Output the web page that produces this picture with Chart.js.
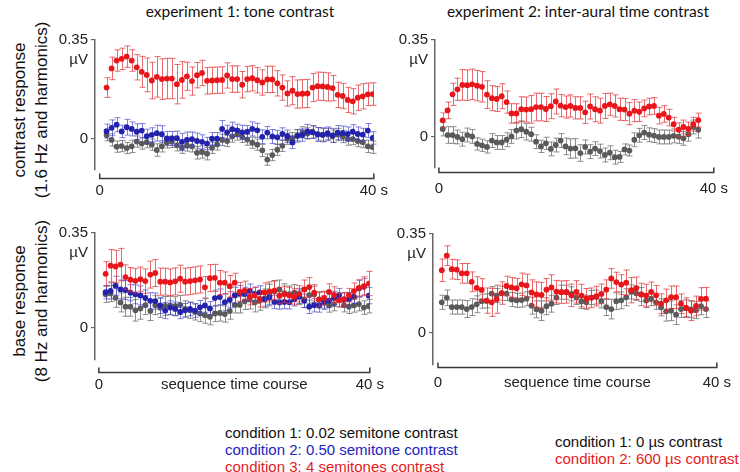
<!DOCTYPE html>
<html>
<head>
<meta charset="utf-8">
<script src="https://cdn.jsdelivr.net/npm/chart.js@4.4.1/dist/chart.umd.min.js"></script>
<style>
  body { margin: 0; width: 740px; height: 472px; position: relative; overflow: hidden; background: #fff;
         font-family: "Liberation Sans", Arial, sans-serif; color: #111; }
  .box { position: absolute; }
  .title { position: absolute; top: 2px; font-family: Lato, "Open Sans", sans-serif; font-size: 15.5px;
           font-weight: 400; transform: translateX(-50%); white-space: nowrap; }
  .ylab { position: absolute; font-size: 17px; line-height: 22px; text-align: center; white-space: nowrap;
          transform: translate(-50%, -50%) rotate(-90deg); }
  .legend { position: absolute; font-size: 15px; line-height: 17px; white-space: nowrap; }
</style>
</head>
<body>

<div class="title" style="left:240px">experiment 1: tone contrast</div>
<div class="title" style="left:578px">experiment 2: inter-aural time contrast</div>

<div class="ylab" style="left:31px; top:110px">contrast response<br>(1.6 Hz and harmonics)</div>
<div class="ylab" style="left:31px; top:301px">base response<br>(8 Hz and harmonics)</div>

<div class="box" id="boxTL"><canvas id="tl"></canvas></div>
<div class="box" id="boxTR"><canvas id="tr"></canvas></div>
<div class="box" id="boxBL"><canvas id="bl"></canvas></div>
<div class="box" id="boxBR"><canvas id="br"></canvas></div>

<div class="legend" style="left:225px; top:424px">
  <div style="color:#111">condition 1: 0.02 semitone contrast</div>
  <div style="color:#2323c0">condition 2: 0.50 semitone contrast</div>
  <div style="color:#e31a1c">condition 3: 4 semitones contrast</div>
</div>
<div class="legend" style="left:555px; top:433px">
  <div style="color:#111">condition 1: 0 µs contrast</div>
  <div style="color:#e31a1c">condition 2: 600 µs contrast</div>
</div>

<script>
// ---- sampling (bin centres, seconds) ----
const EXP1_T0 = 1.0, EXP1_DT = 0.733;
const EXP2_T0 = 0.55, EXP2_DT = 0.715;

// ---- axis ticks ----
const yTicks = [0, 0.35];
const xTicks = [0, 40];

// ---- experiment 1, contrast response (µV) ----
const tlCond1 = [0.012,-0.005,-0.029,-0.027,-0.034,-0.028,-0.011,-0.018,-0.013,-0.022,-0.041,-0.028,-0.014,-0.012,-0.024,-0.033,-0.025,-0.028,-0.051,-0.048,-0.054,-0.033,-0.021,-0.005,-0.009,0.007,0.014,0.006,-0.004,-0.015,-0.022,-0.042,-0.075,-0.059,-0.040,-0.026,-0.001,0.001,0.012,0.022,0.018,0.024,0.016,0.013,0.014,0.008,0.014,0.007,-0.002,-0.002,-0.009,-0.013,-0.028,-0.031];
const tlCond1Err = [0.02,0.022,0.02,0.02,0.02,0.022,0.02,0.02,0.02,0.02,0.022,0.02,0.02,0.02,0.02,0.02,0.02,0.02,0.022,0.022,0.022,0.02,0.02,0.02,0.02,0.02,0.02,0.02,0.02,0.02,0.02,0.022,0.02,0.02,0.02,0.02,0.02,0.02,0.02,0.02,0.02,0.022,0.022,0.022,0.022,0.022,0.022,0.022,0.022,0.02,0.02,0.02,0.022,0.022];
const tlCond2 = [0.026,0.038,0.049,0.025,0.040,0.034,0.024,0.028,0.008,0.013,0.019,0.015,0,0,0.001,-0.012,-0.005,-0.002,-0.009,-0.012,-0.018,-0.001,-0.001,0.034,0.022,0.033,0.029,0.022,0.024,0.034,0.029,0.006,0.021,0.007,0.004,0.016,0.008,-0.014,0.009,0.012,0.025,0.022,0.014,0.013,0.019,0.011,0.021,0.019,0.016,0.024,0.016,0.014,0.028,0.002];
const tlCond2Err = [0.025,0.028,0.025,0.022,0.028,0.025,0.028,0.025,0.025,0.025,0.028,0.03,0.025,0.025,0.025,0.03,0.028,0.025,0.028,0.025,0.022,0.022,0.022,0.03,0.025,0.025,0.022,0.025,0.022,0.025,0.025,0.025,0.022,0.025,0.025,0.022,0.022,0.022,0.022,0.022,0.025,0.022,0.025,0.025,0.022,0.025,0.025,0.025,0.025,0.025,0.025,0.022,0.025,0.022];
const tlCond3 = [0.181,0.249,0.277,0.283,0.291,0.277,0.253,0.237,0.226,0.206,0.219,0.211,0.213,0.213,0.193,0.208,0.221,0.204,0.225,0.233,0.205,0.206,0.207,0.208,0.224,0.211,0.211,0.191,0.211,0.214,0.207,0.199,0.210,0.210,0.196,0.181,0.160,0.170,0.158,0.159,0.160,0.181,0.186,0.185,0.183,0.179,0.155,0.151,0.137,0.132,0.145,0.150,0.157,0.158];
const tlCond3Err = [0.035,0.04,0.038,0.038,0.038,0.038,0.045,0.055,0.06,0.065,0.072,0.072,0.072,0.072,0.07,0.065,0.05,0.05,0.045,0.045,0.047,0.047,0.047,0.047,0.045,0.047,0.047,0.047,0.045,0.045,0.045,0.045,0.047,0.047,0.045,0.045,0.045,0.05,0.05,0.05,0.05,0.05,0.05,0.05,0.05,0.045,0.045,0.045,0.045,0.045,0.045,0.045,0.04,0.04];

// ---- experiment 2, contrast response (µV) ----
const trCond1 = [0.029,0.007,0.007,0,-0.008,0.007,0.002,-0.025,-0.030,-0.036,-0.013,-0.020,-0.020,-0.010,0.002,0.023,0.028,0.019,0.010,-0.017,-0.034,-0.023,-0.043,-0.029,-0.013,-0.034,-0.042,-0.041,-0.058,-0.036,-0.053,-0.042,-0.051,-0.065,-0.057,-0.073,-0.072,-0.045,-0.049,-0.010,0.006,0.016,0.008,0.005,0,0,0,0.004,0.001,-0.005,0.010,0.036,0.026];
const trCond1Err = [0.025,0.03,0.03,0.025,0.025,0.025,0.025,0.022,0.022,0.022,0.025,0.025,0.025,0.025,0.025,0.03,0.03,0.03,0.025,0.025,0.022,0.022,0.025,0.025,0.025,0.03,0.035,0.035,0.03,0.025,0.025,0.025,0.025,0.025,0.025,0.025,0.02,0.02,0.02,0.025,0.025,0.025,0.025,0.025,0.025,0.025,0.025,0.025,0.025,0.025,0.025,0.025,0.03];
const trCond2 = [0.060,0.096,0.154,0.172,0.188,0.187,0.190,0.185,0.181,0.153,0.140,0.137,0.147,0.126,0.085,0.085,0.100,0.099,0.100,0.108,0.108,0.101,0.111,0.128,0.113,0.108,0.112,0.105,0.105,0.089,0.110,0.100,0.095,0.112,0.118,0.112,0.100,0.099,0.084,0.095,0.091,0.103,0.110,0.112,0.077,0.083,0.070,0.046,0.026,0.036,0.029,0.046,0.061];
const trCond2Err = [0.027,0.03,0.04,0.04,0.055,0.055,0.055,0.055,0.055,0.05,0.045,0.045,0.045,0.04,0.035,0.035,0.045,0.045,0.05,0.05,0.05,0.045,0.045,0.045,0.04,0.04,0.04,0.04,0.04,0.04,0.045,0.045,0.045,0.045,0.04,0.04,0.04,0.04,0.04,0.04,0.035,0.03,0.03,0.03,0.03,0.03,0.03,0.025,0.025,0.025,0.025,0.025,0.025];

// ---- experiment 1, base response (µV) ----
const blCond1 = [0.123,0.126,0.110,0.093,0.077,0.077,0.064,0.071,0.083,0.061,0.083,0.073,0.080,0.082,0.079,0.084,0.069,0.064,0.058,0.052,0.046,0.040,0.052,0.054,0.050,0.061,0.084,0.084,0.097,0.104,0.093,0.099,0.108,0.120,0.134,0.141,0.127,0.124,0.129,0.115,0.104,0.120,0.123,0.103,0.102,0.082,0.087,0.102,0.083,0.077,0.082,0.087,0.074,0.079];
const blCond1Err = [0.03,0.03,0.035,0.035,0.035,0.035,0.04,0.04,0.035,0.035,0.035,0.035,0.035,0.035,0.035,0.035,0.03,0.03,0.03,0.03,0.03,0.03,0.03,0.03,0.03,0.03,0.03,0.03,0.03,0.035,0.035,0.035,0.035,0.04,0.04,0.035,0.035,0.03,0.03,0.03,0.03,0.03,0.03,0.03,0.03,0.025,0.025,0.025,0.025,0.025,0.025,0.025,0.025,0.025];
const blCond2 = [0.131,0.136,0.155,0.141,0.139,0.129,0.123,0.119,0.109,0.099,0.098,0.082,0.063,0.074,0.069,0.058,0.064,0.069,0.063,0.075,0.082,0.071,0.109,0.113,0.094,0.103,0.119,0.126,0.124,0.136,0.125,0.130,0.104,0.111,0.095,0.093,0.095,0.094,0.105,0.114,0.099,0.077,0.083,0.082,0.092,0.100,0.109,0.120,0.103,0.105,0.114,0.145,0.151,0.118];
const blCond2Err = [0.025,0.03,0.035,0.035,0.035,0.03,0.035,0.035,0.03,0.03,0.03,0.03,0.03,0.025,0.025,0.025,0.025,0.025,0.025,0.025,0.025,0.025,0.03,0.03,0.03,0.03,0.03,0.03,0.025,0.025,0.025,0.025,0.025,0.025,0.025,0.025,0.025,0.025,0.025,0.025,0.025,0.025,0.025,0.025,0.025,0.025,0.025,0.025,0.025,0.025,0.025,0.03,0.03,0.03];
const blCond3 = [0.199,0.229,0.226,0.233,0.187,0.177,0.173,0.179,0.172,0.196,0.202,0.170,0.170,0.167,0.171,0.181,0.170,0.172,0.175,0.178,0.149,0.183,0.184,0.166,0.166,0.153,0.166,0.132,0.137,0.114,0.119,0.106,0.130,0.134,0.137,0.118,0.123,0.119,0.114,0.125,0.141,0.150,0.129,0.104,0.110,0.132,0.121,0.101,0.105,0.120,0.135,0.147,0.153,0.163];
const blCond3Err = [0.045,0.06,0.06,0.06,0.045,0.045,0.045,0.045,0.045,0.05,0.05,0.05,0.05,0.05,0.05,0.05,0.05,0.05,0.05,0.05,0.04,0.05,0.05,0.045,0.04,0.04,0.035,0.035,0.035,0.03,0.03,0.03,0.035,0.035,0.035,0.03,0.03,0.03,0.03,0.03,0.035,0.035,0.03,0.025,0.025,0.03,0.03,0.025,0.025,0.025,0.03,0.03,0.035,0.045];

// ---- experiment 2, base response (µV) ----
const brCond1 = [0.107,0.123,0.090,0.090,0.090,0.083,0.090,0.100,0.111,0.112,0.138,0.131,0.139,0.138,0.117,0.114,0.115,0.120,0.095,0.082,0.077,0.093,0.102,0.124,0.143,0.143,0.137,0.124,0.110,0.107,0.124,0.126,0.112,0.090,0.083,0.111,0.114,0.125,0.144,0.139,0.135,0.113,0.120,0.107,0.089,0.075,0.077,0.063,0.083,0.086,0.082,0.079,0.093,0.083];
const brCond1Err = [0.025,0.028,0.025,0.025,0.025,0.03,0.03,0.03,0.025,0.025,0.025,0.025,0.025,0.025,0.025,0.025,0.025,0.025,0.03,0.03,0.035,0.03,0.03,0.025,0.025,0.025,0.025,0.025,0.025,0.025,0.025,0.025,0.025,0.03,0.035,0.03,0.03,0.03,0.025,0.025,0.025,0.025,0.025,0.025,0.03,0.035,0.035,0.035,0.03,0.03,0.03,0.03,0.03,0.03];
const brCond2 = [0.221,0.273,0.225,0.223,0.210,0.210,0.180,0.158,0.151,0.113,0.107,0.118,0.140,0.165,0.160,0.157,0.171,0.167,0.142,0.135,0.133,0.152,0.160,0.145,0.143,0.144,0.132,0.144,0.131,0.121,0.123,0.129,0.137,0.152,0.192,0.179,0.170,0.177,0.150,0.157,0.135,0.131,0.144,0.132,0.102,0.114,0.125,0.125,0.102,0.088,0.077,0.094,0.119,0.120];
const brCond2Err = [0.04,0.035,0.035,0.035,0.035,0.035,0.035,0.04,0.04,0.045,0.05,0.05,0.04,0.035,0.035,0.035,0.04,0.04,0.045,0.045,0.045,0.04,0.045,0.04,0.04,0.04,0.04,0.04,0.04,0.035,0.035,0.035,0.035,0.035,0.035,0.035,0.035,0.045,0.045,0.04,0.04,0.04,0.035,0.035,0.035,0.04,0.04,0.04,0.035,0.035,0.035,0.035,0.04,0.04];

// ---- colours ----
const RED = { dot: "#e8161b", bar: "rgba(226,48,52,0.72)" };
const BLUE = { dot: "#2222ad", bar: "rgba(62,62,205,0.65)" };
const GRAY = { dot: "#5a5a5a", bar: "rgba(105,105,105,0.75)" };

const binTimes = (n, t0, dt) => Array.from({ length: n }, (_, i) => t0 + i * dt);

const series = (values, errors, t0, dt, col) => {
  const t = binTimes(values.length, t0, dt);
  return {
    data: values.map((v, i) => ({ x: t[i], y: v })),
    errors,
    barColor: col.bar,
    backgroundColor: col.dot,
    borderWidth: 0,
    pointRadius: 2.9,
    pointHoverRadius: 2.9,
  };
};

// ---- error bars, drawn just under each dataset's dots ----
const errorBars = {
  id: "errorBars",
  beforeDatasetDraw(chart, args) {
    const ds = chart.data.datasets[args.index];
    if (!ds.errors) return;
    const { ctx, scales: { x, y } } = chart;
    ctx.save();
    ctx.strokeStyle = ds.barColor;
    ctx.lineWidth = 1;
    ds.data.forEach((p, i) => {
      const e = ds.errors[i];
      const px = Math.round(x.getPixelForValue(p.x)) + 0.5;
      const top = y.getPixelForValue(p.y + e);
      const bot = y.getPixelForValue(p.y - e);
      ctx.beginPath();
      ctx.moveTo(px, top); ctx.lineTo(px, bot);
      ctx.moveTo(px - 3, top); ctx.lineTo(px + 3, top);
      ctx.moveTo(px - 3, bot); ctx.lineTo(px + 3, bot);
      ctx.stroke();
    });
    ctx.restore();
  },
};

// ---- detached time axis, unit label and axis title ----
const axisDecor = {
  id: "axisDecor",
  afterDraw(chart, args, opts) {
    const { ctx, chartArea, scales: { x, y } } = chart;
    const x0 = x.getPixelForValue(xTicks[0]);
    const x1 = x.getPixelForValue(xTicks[1]);
    const ly = Math.round(chartArea.bottom + opts.gap) + 0.5;
    ctx.save();
    ctx.strokeStyle = "#3a3a3a";
    ctx.lineWidth = 1.5;
    ctx.beginPath();
    ctx.moveTo(x0, ly - 5); ctx.lineTo(x0, ly); ctx.lineTo(x1, ly); ctx.lineTo(x1, ly - 5);
    ctx.stroke();

    ctx.fillStyle = "#222";
    ctx.font = '15px "Liberation Sans", Arial, sans-serif';
    ctx.textAlign = "right";
    ctx.textBaseline = "middle";
    ctx.fillText("µV", chartArea.left - 7, y.getPixelForValue(0.35) + 20);

    if (opts.title) {
      ctx.textAlign = "center";
      ctx.fillText(opts.title, x.getPixelForValue(20), chartArea.bottom + opts.label);
    }
    ctx.restore();
  },
};

// ---- one panel ----
const Y_W = 45, X_H = 30;
function makePanel(id, box, area, cfg) {
  const holder = document.getElementById(id).parentElement;
  Object.assign(holder.style, { left: box[0] + "px", top: box[1] + "px", width: box[2] + "px", height: box[3] + "px" });

  new Chart(document.getElementById(id), {
    type: "scatter",
    data: { datasets: cfg.datasets },
    options: {
      responsive: true,
      maintainAspectRatio: false,
      animation: false,
      events: [],
      layout: {
        padding: {
          left: area.l - box[0] - Y_W,
          top: area.t - box[1],
          right: box[0] + box[2] - area.r,
          bottom: box[1] + box[3] - area.b - X_H,
        },
      },
      plugins: {
        legend: { display: false },
        tooltip: { enabled: false },
        axisDecor: { gap: cfg.gap, label: cfg.label, title: cfg.title },
      },
      scales: {
        x: {
          type: "linear",
          min: cfg.xMin,
          max: xTicks[1],
          afterBuildTicks: s => { s.ticks = xTicks.map(v => ({ value: v })); },
          afterFit: s => { s.height = X_H; },
          grid: { display: false, drawTicks: false },
          border: { display: false },
          ticks: {
            autoSkip: false, maxRotation: 0, padding: cfg.label - 9, color: "#222",
            font: { family: '"Liberation Sans", Arial, sans-serif', size: 15 },
            callback: v => (v === 40 ? "40 s" : "0"),
          },
        },
        y: {
          min: cfg.yMin,
          max: 0.35,
          afterBuildTicks: s => { s.ticks = yTicks.map(v => ({ value: v })); },
          afterFit: s => { s.width = Y_W; },
          grid: { drawOnChartArea: false, drawTicks: true, tickLength: 4, color: "#666", lineWidth: 1.2 },
          border: { display: true, color: "#666", width: 1.5 },
          ticks: {
            padding: 3, color: "#222",
            font: { family: '"Liberation Sans", Arial, sans-serif', size: 15 },
            callback: v => (v === 0 ? "0" : "0.35"),
          },
        },
      },
    },
    plugins: [errorBars, axisDecor],
  });
}

window.addEventListener("DOMContentLoaded", () => {
  makePanel("tl", [40, 22, 360, 190], { l: 95, t: 40, r: 378, b: 170 }, {
    xMin: -0.69, yMin: -0.112, gap: 8, label: 21,
    datasets: [
      series(tlCond3, tlCond3Err, EXP1_T0, EXP1_DT, RED),
      series(tlCond2, tlCond2Err, EXP1_T0, EXP1_DT, BLUE),
      series(tlCond1, tlCond1Err, EXP1_T0, EXP1_DT, GRAY),
    ],
  });
  makePanel("tr", [380, 22, 360, 190], { l: 435, t: 40, r: 718, b: 168 }, {
    xMin: -0.57, yMin: -0.112, gap: 4, label: 21,
    datasets: [
      series(trCond2, trCond2Err, EXP2_T0, EXP2_DT, RED),
      series(trCond1, trCond1Err, EXP2_T0, EXP2_DT, GRAY),
    ],
  });
  makePanel("bl", [40, 218, 360, 185], { l: 95, t: 233, r: 380, b: 360 }, {
    xMin: -0.57, yMin: -0.120, gap: 12, label: 25, title: "sequence time course",
    datasets: [
      series(blCond3, blCond3Err, EXP1_T0, EXP1_DT, RED),
      series(blCond2, blCond2Err, EXP1_T0, EXP1_DT, BLUE),
      series(blCond1, blCond1Err, EXP1_T0, EXP1_DT, GRAY),
    ],
  });
  makePanel("br", [380, 218, 360, 185], { l: 433, t: 234, r: 718, b: 365 }, {
    xMin: -0.71, yMin: -0.116, gap: 2, label: 18, title: "sequence time course",
    datasets: [
      series(brCond2, brCond2Err, EXP2_T0, EXP2_DT, RED),
      series(brCond1, brCond1Err, EXP2_T0, EXP2_DT, GRAY),
    ],
  });
});
</script>
</body>
</html>
